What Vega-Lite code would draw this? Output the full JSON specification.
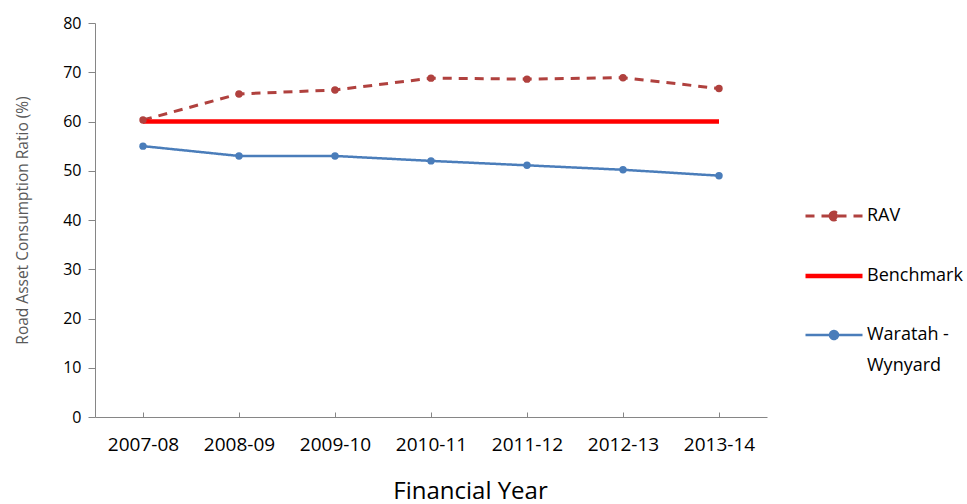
{
  "$schema": "https://vega.github.io/schema/vega-lite/v6.json",
  "width": 672,
  "height": 394,
  "autosize": {"type": "none"},
  "padding": {"left": 95, "top": 23, "right": 200, "bottom": 87},
  "background": "white",
  "config": {
    "view": {"stroke": null},
    "font": "Open Sans"
  },
  "data": {
    "values": [
      {"year": "2007-08", "series": "RAV", "value": 60.3},
      {"year": "2008-09", "series": "RAV", "value": 65.6},
      {"year": "2009-10", "series": "RAV", "value": 66.4},
      {"year": "2010-11", "series": "RAV", "value": 68.8},
      {"year": "2011-12", "series": "RAV", "value": 68.6},
      {"year": "2012-13", "series": "RAV", "value": 68.9},
      {"year": "2013-14", "series": "RAV", "value": 66.7},
      {"year": "2007-08", "series": "Benchmark", "value": 60},
      {"year": "2008-09", "series": "Benchmark", "value": 60},
      {"year": "2009-10", "series": "Benchmark", "value": 60},
      {"year": "2010-11", "series": "Benchmark", "value": 60},
      {"year": "2011-12", "series": "Benchmark", "value": 60},
      {"year": "2012-13", "series": "Benchmark", "value": 60},
      {"year": "2013-14", "series": "Benchmark", "value": 60},
      {"year": "2007-08", "series": "Waratah - Wynyard", "value": 55.0},
      {"year": "2008-09", "series": "Waratah - Wynyard", "value": 53.0},
      {"year": "2009-10", "series": "Waratah - Wynyard", "value": 53.0},
      {"year": "2010-11", "series": "Waratah - Wynyard", "value": 52.0},
      {"year": "2011-12", "series": "Waratah - Wynyard", "value": 51.1},
      {"year": "2012-13", "series": "Waratah - Wynyard", "value": 50.2},
      {"year": "2013-14", "series": "Waratah - Wynyard", "value": 49.0}
    ]
  },
  "encoding": {
    "x": {
      "field": "year", "type": "ordinal",
      "scale": {"type": "point", "padding": 0.5},
      "axis": {
        "title": "Financial Year", "titleFontSize": 24, "titleFontWeight": "normal", "titleColor": "#000000",
        "titlePadding": 25, "titleX": 375, "titleAlign": "center",
        "labelAngle": 0, "labelFontSize": 19, "labelColor": "#000000", "labelPadding": 23,
        "domainColor": "#868686", "tickColor": "#868686", "tickSize": -5, "grid": false
      }
    },
    "y": {
      "field": "value", "type": "quantitative",
      "scale": {"domain": [0, 80], "nice": false},
      "axis": {
        "title": "Road Asset Consumption Ratio (%)", "titleFontSize": 15.5, "titleFontWeight": "normal", "titleColor": "#595959",
        "titlePadding": 32,
        "values": [0, 10, 20, 30, 40, 50, 60, 70, 80],
        "labelFontSize": 16, "labelColor": "#000000", "labelPadding": 7,
        "domainColor": "#868686", "tickColor": "#868686", "tickSize": 7, "grid": false
      }
    },
    "color": {
      "field": "series", "type": "nominal",
      "scale": {"domain": ["RAV", "Benchmark", "Waratah - Wynyard"], "range": ["#B0413E", "#FF0000", "#4A7DBA"]},
      "legend": {
        "title": null, "orient": "none", "legendX": 730, "legendY": 184,
        "symbolType": "stroke", "symbolSize": 3249, "symbolStrokeWidth": 3,
        "labelFontSize": 18, "labelColor": "#000000", "labelOffset": 24, "rowPadding": 41,
        "labelExpr": "datum.label == 'Waratah - Wynyard' ? ['Waratah -', 'Wynyard'] : datum.label",
        "encode": {
          "symbols": {
            "update": {
              "shape": {"signal": "datum.value == 'Benchmark' ? 'M-1,0L1,0' : 'M-1,0L1,0M-0.14,0A0.14,0.14 0 1,1 0.14,0A0.14,0.14 0 1,1 -0.14,0Z'"},
              "fill": {"signal": "datum.value == 'Benchmark' ? 'transparent' : scale('color', datum.value)"},
              "strokeWidth": {"signal": "datum.value == 'Benchmark' ? 4.5 : (datum.value == 'RAV' ? 3 : 2.5)"}
            }
          },
          "labels": {
            "update": {
              "lineHeight": {"value": 31}
            }
          }
        }
      }
    }
  },
  "layer": [
    {
      "mark": {"type": "line"},
      "encoding": {
        "strokeDash": {
          "field": "series", "type": "nominal",
          "scale": {"domain": ["RAV", "Benchmark", "Waratah - Wynyard"], "range": [[9, 7], [1, 0], [1, 0]]}
        },
        "strokeWidth": {
          "condition": [
            {"test": "datum.series == 'Benchmark'", "value": 4.5},
            {"test": "datum.series == 'RAV'", "value": 3}
          ],
          "value": 2.5
        }
      }
    },
    {
      "transform": [{"filter": "datum.series != 'Benchmark'"}],
      "mark": {"type": "circle", "size": 55, "opacity": 1}
    }
  ]
}
